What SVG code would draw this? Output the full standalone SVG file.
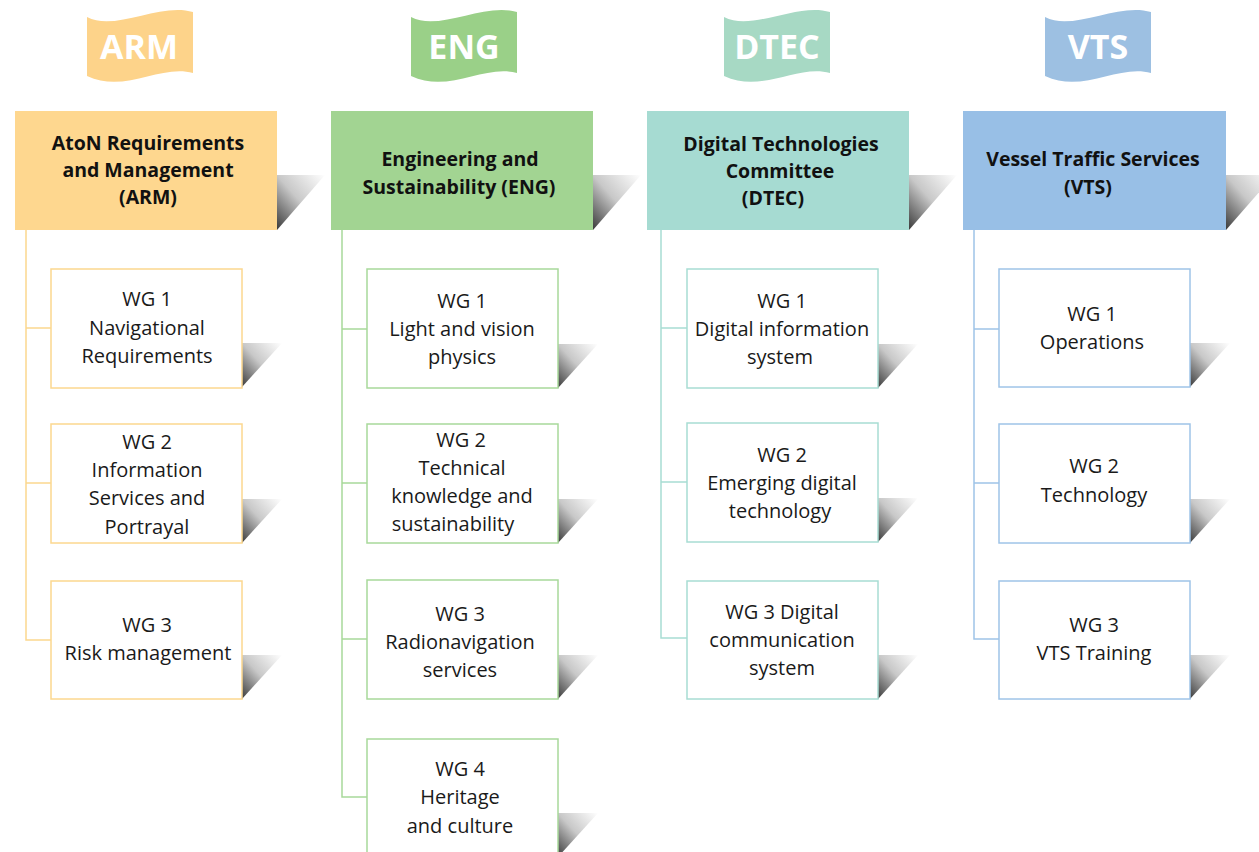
<svg xmlns="http://www.w3.org/2000/svg" width="1259" height="852" viewBox="0 0 1259 852">
<defs>
<linearGradient id="sh" x1="0" y1="1" x2="1" y2="0">
<stop offset="0" stop-color="#3a3a3a"/>
<stop offset="0.5" stop-color="#c8c8c8"/>
<stop offset="1" stop-color="#fff"/>
</linearGradient>
<path id="flag" d="M0,5 C28,20 73,-10 106,0 L106,61 C73,52 38,82 0,64 Z"/>
<path id="hsh" d="M0,0 L48,0 L0,55 Z"/>
<path id="wsh" d="M0,0 L40,0 L0,44 Z"/>
</defs>
<style>
.ft{font-family:"Open Sans","Liberation Sans",sans-serif;font-weight:700;font-size:34px;fill:#fff;text-anchor:middle}
.ht{font-family:"Open Sans","Liberation Sans",sans-serif;font-weight:700;font-size:19.5px;fill:#111;text-anchor:middle}
.wt{font-family:"Open Sans","Liberation Sans",sans-serif;font-size:20px;fill:#1a1a1a;text-anchor:middle}
.shd{fill:url(#sh)}
.wb{fill:#fff;stroke-width:1.5}
.arm{stroke:#FCD78F}.eng{stroke:#A8D99A}.dtec{stroke:#A8DDD3}.vts{stroke:#9FC4E8}
.cn{fill:none;stroke-width:1.5}
</style>
<rect width="1259" height="852" fill="#fff"/>

<!-- flags -->
<g id="flag-arm"><use href="#flag" x="87" y="12" fill="#FDD38A"/><text class="ft" x="139" y="59">ARM</text></g>
<g id="flag-eng"><use href="#flag" x="411" y="12" fill="#9AD088"/><text class="ft" x="464" y="59">ENG</text></g>
<g id="flag-dtec"><use href="#flag" x="724" y="12" fill="#A7D9C4"/><text class="ft" x="777" y="59">DTEC</text></g>
<g id="flag-vts"><use href="#flag" x="1045" y="12" fill="#9DC0E2"/><text class="ft" x="1098" y="59">VTS</text></g>

<!-- connectors -->
<g id="connectors">
<path class="cn arm" d="M26,230 V640 H51 M26,328 H51 M26,483 H51"/>
<path class="cn eng" d="M342,230 V797 H367 M342,329 H367 M342,483 H367 M342,639 H367"/>
<path class="cn dtec" d="M661,230 V638 H687 M661,328 H687 M661,482 H687"/>
<path class="cn vts" d="M974,230 V639 H999 M974,329 H999 M974,483 H999"/>
</g>

<!-- headers -->
<g id="hdr-arm">
<use href="#hsh" x="277" y="175" class="shd"/>
<rect x="15" y="111" width="262" height="119" fill="#FED78F"/>
<text class="ht" x="148" y="150">AtoN Requirements</text>
<text class="ht" x="148" y="177">and Management</text>
<text class="ht" x="148" y="204">(ARM)</text>
</g>
<g id="hdr-eng">
<use href="#hsh" x="593" y="175" class="shd"/>
<rect x="331" y="111" width="262" height="119" fill="#A2D492"/>
<text class="ht" x="460" y="166">Engineering and</text>
<text class="ht" x="459" y="194">Sustainability (ENG)</text>
</g>
<g id="hdr-dtec">
<use href="#hsh" x="909" y="175" class="shd"/>
<rect x="647" y="111" width="262" height="119" fill="#A6DBD2"/>
<text class="ht" x="781" y="151">Digital Technologies</text>
<text class="ht" x="780" y="178">Committee</text>
<text class="ht" x="773" y="205">(DTEC)</text>
</g>
<g id="hdr-vts">
<use href="#hsh" x="1226" y="175" class="shd"/>
<rect x="963" y="111" width="263" height="119" fill="#98BFE6"/>
<text class="ht" x="1093" y="166">Vessel Traffic Services</text>
<text class="ht" x="1088" y="194">(VTS)</text>
</g>

<!-- ARM WGs -->
<g id="arm-wg1"><use href="#wsh" x="242" y="343" class="shd"/><rect class="wb arm" x="51" y="269" width="191" height="119"/>
<text class="wt" x="147" y="306">WG 1</text><text class="wt" x="147" y="335">Navigational</text><text class="wt" x="147" y="363">Requirements</text></g>
<g id="arm-wg2"><use href="#wsh" x="242" y="499" class="shd"/><rect class="wb arm" x="51" y="424" width="191" height="119"/>
<text class="wt" x="147" y="449">WG 2</text><text class="wt" x="147" y="477">Information</text><text class="wt" x="147" y="505">Services and</text><text class="wt" x="147" y="534">Portrayal</text></g>
<g id="arm-wg3"><use href="#wsh" x="242" y="655" class="shd"/><rect class="wb arm" x="51" y="581" width="191" height="118"/>
<text class="wt" x="147" y="632">WG 3</text><text class="wt" x="148" y="660">Risk management</text></g>

<!-- ENG WGs -->
<g id="eng-wg1"><use href="#wsh" x="558" y="344" class="shd"/><rect class="wb eng" x="367" y="269" width="191" height="119"/>
<text class="wt" x="462" y="308">WG 1</text><text class="wt" x="462" y="336">Light and vision</text><text class="wt" x="462" y="364">physics</text></g>
<g id="eng-wg2"><use href="#wsh" x="558" y="499" class="shd"/><rect class="wb eng" x="367" y="424" width="191" height="119"/>
<text class="wt" x="461" y="447">WG 2</text><text class="wt" x="462" y="475">Technical</text><text class="wt" x="462" y="503">knowledge and</text><text class="wt" x="453" y="531">sustainability</text></g>
<g id="eng-wg3"><use href="#wsh" x="558" y="655" class="shd"/><rect class="wb eng" x="367" y="580" width="191" height="119"/>
<text class="wt" x="460" y="621">WG 3</text><text class="wt" x="460" y="649">Radionavigation</text><text class="wt" x="460" y="677">services</text></g>
<g id="eng-wg4"><use href="#wsh" x="558" y="813" class="shd"/><rect class="wb eng" x="367" y="739" width="191" height="119"/>
<text class="wt" x="460" y="776">WG 4</text><text class="wt" x="460" y="804">Heritage</text><text class="wt" x="460" y="833">and culture</text></g>

<!-- DTEC WGs -->
<g id="dtec-wg1"><use href="#wsh" x="878" y="344" class="shd"/><rect class="wb dtec" x="687" y="269" width="191" height="119"/>
<text class="wt" x="782" y="308">WG 1</text><text class="wt" x="782" y="336">Digital information</text><text class="wt" x="780" y="364">system</text></g>
<g id="dtec-wg2"><use href="#wsh" x="878" y="498" class="shd"/><rect class="wb dtec" x="687" y="423" width="191" height="119"/>
<text class="wt" x="782" y="462">WG 2</text><text class="wt" x="782" y="490">Emerging digital</text><text class="wt" x="780" y="518">technology</text></g>
<g id="dtec-wg3"><use href="#wsh" x="878" y="655" class="shd"/><rect class="wb dtec" x="687" y="581" width="191" height="118"/>
<text class="wt" x="782" y="619">WG 3 Digital</text><text class="wt" x="782" y="647">communication</text><text class="wt" x="782" y="675">system</text></g>

<!-- VTS WGs -->
<g id="vts-wg1"><use href="#wsh" x="1190" y="343" class="shd"/><rect class="wb vts" x="999" y="269" width="191" height="118"/>
<text class="wt" x="1092" y="321">WG 1</text><text class="wt" x="1092" y="349">Operations</text></g>
<g id="vts-wg2"><use href="#wsh" x="1190" y="499" class="shd"/><rect class="wb vts" x="999" y="424" width="191" height="119"/>
<text class="wt" x="1094" y="473">WG 2</text><text class="wt" x="1094" y="502">Technology</text></g>
<g id="vts-wg3"><use href="#wsh" x="1190" y="655" class="shd"/><rect class="wb vts" x="999" y="581" width="191" height="118"/>
<text class="wt" x="1094" y="632">WG 3</text><text class="wt" x="1094" y="660">VTS Training</text></g>
</svg>
